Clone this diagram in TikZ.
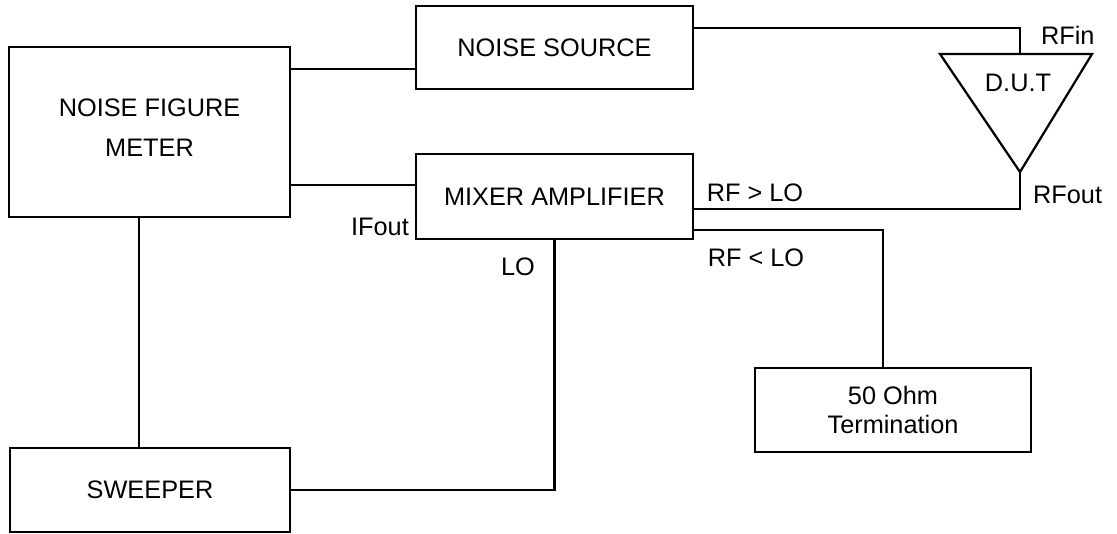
\documentclass[tikz,border=0pt]{standalone}
\usepackage{fontspec}
\setmainfont{Liberation Sans}

\begin{document}
\begin{tikzpicture}[x=0.025cm,y=-0.025cm,line width=1.6pt,
    font=\fontsize{18}{21}\selectfont,
    blk/.style={draw,inner sep=0pt,align=center},
    lbl/.style={inner sep=0pt}]
  \useasboundingbox (0,0) rectangle (1117,533);
  % boxes
  \node[blk,minimum width=7.025cm,minimum height=4.25cm] (nfm) at (149.5,132)
    {NOISE FIGURE\\[7.5pt]METER\\[-15pt]};
  \node[blk,minimum width=6.925cm,minimum height=2.075cm] (nsrc) at (554.5,47.5)
    {NOISE SOURCE};
  \node[blk,minimum width=6.925cm,minimum height=2.125cm] (mix) at (554.5,196.5)
    {MIXER AMPLIFIER};
  \node[blk,minimum width=7cm,minimum height=2.1cm] (swp) at (150,490) {SWEEPER};
  \node[blk,minimum width=6.9cm,minimum height=2.1cm] (term) at (893,410)
    {50 Ohm\\Termination};
  % D.U.T triangle
  \coordinate (dutl) at (940,54);
  \coordinate (dutr) at (1092,54);
  \coordinate (dutin) at (1020,54);
  \coordinate (dutout) at (1020,172);
  \draw[line join=miter] (dutl) -- (dutr) -- (dutout) -- cycle;
  \node[lbl] (dut) at (1018,83) {D.U.T};
  % meter to noise source and mixer
  \draw (nfm.east |- 0,69) -- (nsrc.west |- 0,69);
  \draw (nfm.east |- 0,185) -- (mix.west |- 0,185);
  % noise source into D.U.T
  \draw (nsrc.east |- 0,28) -- (dutin |- 0,28) -- (dutin);
  % D.U.T out to mixer
  \draw (dutout) -- (dutout |- 0,209) -- (mix.east |- 0,209);
  % image band to termination
  \draw (mix.east |- 0,230) -- (883,230) -- (883,0 |- term.north);
  % sweeper LO and meter
  \draw (mix.south) -- (mix.south |- swp.east) -- (swp.east);
  \draw (nfm.south -| 139,0) -- (swp.north -| 139,0);
  % port labels
  \node[lbl,anchor=west] (rfin) at (1040,35) {RFin};
  \node[lbl,anchor=west] (rfout) at (1032,195) {RFout};
  \node[lbl] (upper) at (755,193) {RF > LO};
  \node[lbl] (lower) at (756,258) {RF < LO};
  \node[lbl] (lo) at (518,267) {LO};
  \node[lbl] (ifout) at (380,227) {IFout};
\end{tikzpicture}
\end{document}
